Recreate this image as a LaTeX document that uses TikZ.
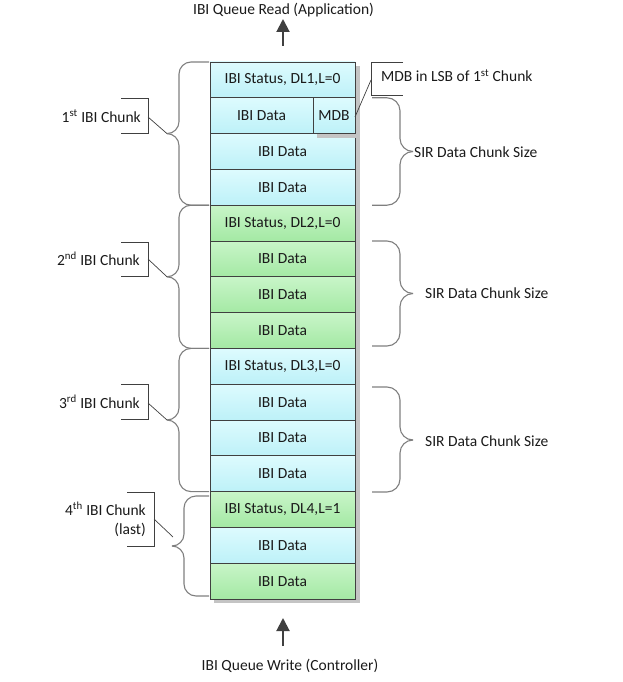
\documentclass[tikz,border=0pt]{standalone}
\usepackage{fontspec}
\setmainfont{Carlito}
\usetikzlibrary{arrows.meta}
\definecolor{cyanT}{HTML}{DDFBFE}
\definecolor{cyanB}{HTML}{BDF1F8}
\definecolor{greenT}{HTML}{C8F5C8}
\definecolor{greenB}{HTML}{A4E9A4}
\definecolor{edge}{HTML}{404040}
\definecolor{brc}{HTML}{7F7F7F}
\definecolor{shd}{HTML}{C4C4C4}
\definecolor{txt}{HTML}{1A1A1A}
\begin{document}
\begin{tikzpicture}[x=1pt,y=-1pt, font=\fontsize{15.5}{19}\selectfont, text=txt,
 cell/.style={draw=edge, line width=0.8pt, minimum width=145pt, minimum height=35.8pt, inner sep=0pt, outer sep=0pt},
 cy/.style={cell, top color=cyanT, bottom color=cyanB},
 gr/.style={cell, top color=greenT, bottom color=greenB},
 brc/.style={draw=brc, line width=1.1pt},
 bracket/.style={draw=edge, line width=0.9pt},
 callout/.style={draw=edge, line width=0.7pt},
 flow/.style={draw=edge, line width=2pt, -{Triangle[length=13pt,width=13pt]}},
 lbl/.style={inner sep=0pt, align=right}
]
\useasboundingbox (0,0) rectangle (622,682);
% shadow
\fill[shd] (214,66) rectangle (359.5,603);
% rows
\node[cy] (r1) at (282.5,79.9) {IBI Status, DL1,L=0};
\node[cy, minimum width=103pt] (r2) at (261.5,115.7) {IBI Data};
\node[cy] (r3) at (282.5,151.5) {IBI Data};
\node[cy] (r4) at (282.5,187.3) {IBI Data};
\node[gr] (r5) at (282.5,223.1) {IBI Status, DL2,L=0};
\node[gr] (r6) at (282.5,258.9) {IBI Data};
\node[gr] (r7) at (282.5,294.7) {IBI Data};
\node[gr] (r8) at (282.5,330.5) {IBI Data};
\node[cy] (r9) at (282.5,366.3) {IBI Status, DL3,L=0};
\node[cy] (r10) at (282.5,402.1) {IBI Data};
\node[cy] (r11) at (282.5,437.9) {IBI Data};
\node[cy] (r12) at (282.5,473.7) {IBI Data};
\node[gr] (r13) at (282.5,509.5) {IBI Status, DL4,L=1};
\node[cy] (r14) at (282.5,545.3) {IBI Data};
\node[gr] (r15) at (282.5,581.1) {IBI Data};
% MDB cell with its shadow
\fill[shd] (317,101.8) rectangle (359.5,137.6);
\node[cy, minimum width=42pt] (mdb) at (334,115.7) {MDB};

% left braces
\begin{scope}[rounded corners=12pt]
\draw[brc] (209,62) -- (179,62) -- (179,133.6) -- (167,133.6);
\draw[brc] (167,133.6) -- (179,133.6) -- (179,205.2) -- (209,205.2);
\draw[brc] (209,205.2) -- (179,205.2) -- (179,276.8) -- (167,276.8);
\draw[brc] (167,276.8) -- (179,276.8) -- (179,348.4) -- (209,348.4);
\draw[brc] (209,348.4) -- (179,348.4) -- (179,420) -- (167,420);
\draw[brc] (167,420) -- (179,420) -- (179,491.6) -- (209,491.6);
\draw[brc] (209,496) -- (184,496) -- (184,546) -- (172,546);
\draw[brc] (172,546) -- (184,546) -- (184,596) -- (209,596);
\end{scope}
% right braces
\begin{scope}[rounded corners=13pt]
\draw[brc] (372,97.8) -- (400,97.8) -- (400,151.5) -- (413,151.5);
\draw[brc] (413,151.5) -- (400,151.5) -- (400,205.2) -- (372,205.2);
\draw[brc] (372,241) -- (400,241) -- (400,293.5) -- (413,293.5);
\draw[brc] (413,293.5) -- (400,293.5) -- (400,346) -- (372,346);
\draw[brc] (372,387) -- (400,387) -- (400,440) -- (413,440);
\draw[brc] (413,440) -- (400,440) -- (400,492) -- (372,492);
\end{scope}

% chunk labels
\node[lbl, anchor=base east] (c1) at (141,122) {1\textsuperscript{st} IBI Chunk};
\node[lbl, anchor=base east] (c2) at (140,265) {2\textsuperscript{nd} IBI Chunk};
\node[lbl, anchor=base east] (c3) at (140,408) {3\textsuperscript{rd} IBI Chunk};
\node[lbl, anchor=base east] (c4) at (146,515) {4\textsuperscript{th} IBI Chunk};
\node[lbl, anchor=base east] (c4b) at (146,534) {(last)};

% brackets
\draw[bracket] (121,98) -- (148,98) -- (148,133) -- (121,133);
\draw[bracket] (121,242) -- (148,242) -- (148,276) -- (121,276);
\draw[bracket] (121,384) -- (148,384) -- (148,419) -- (121,419);
\draw[bracket] (127,492) -- (154,492) -- (154,546) -- (127,546);
\draw[bracket] (403,62) -- (371,62) -- (371,95) -- (403,95);

\coordinate (k1) at (148,117); \coordinate (t1) at (167,133.6);
\coordinate (k2) at (148,259); \coordinate (t2) at (167,276.8);
\coordinate (k3) at (148,403); \coordinate (t3) at (167,420);
\coordinate (k4) at (154,519); \coordinate (t4) at (173,537);
\coordinate (km) at (371,80); \coordinate (tm) at (355,117);
\draw[callout] (k1) -- (t1);
\draw[callout] (k2) -- (t2);
\draw[callout] (k3) -- (t3);
\draw[callout] (k4) -- (t4);
\draw[callout] (km) -- (tm);

% right labels
\node[inner sep=0pt, anchor=base west] (mlab) at (381,82) {MDB in LSB of 1\textsuperscript{st} Chunk};
\node[inner sep=0pt, anchor=base west] (s1) at (414,157) {SIR Data Chunk Size};
\node[inner sep=0pt, anchor=base west] (s2) at (425,298) {SIR Data Chunk Size};
\node[inner sep=0pt, anchor=base west] (s3) at (425,446) {SIR Data Chunk Size};

% flow arrows
\node[inner sep=0pt, anchor=base] (rd) at (283.5,15) {IBI Queue Read (Application)};
\node[inner sep=0pt, anchor=base] (wr) at (290,670) {IBI Queue Write (Controller)};
\coordinate (a1s) at (283,46); \coordinate (a1e) at (283,19);
\coordinate (a2s) at (283,646); \coordinate (a2e) at (283,618);
\draw[flow] (a1s) -- (a1e);
\draw[flow] (a2s) -- (a2e);
\end{tikzpicture}
\end{document}
